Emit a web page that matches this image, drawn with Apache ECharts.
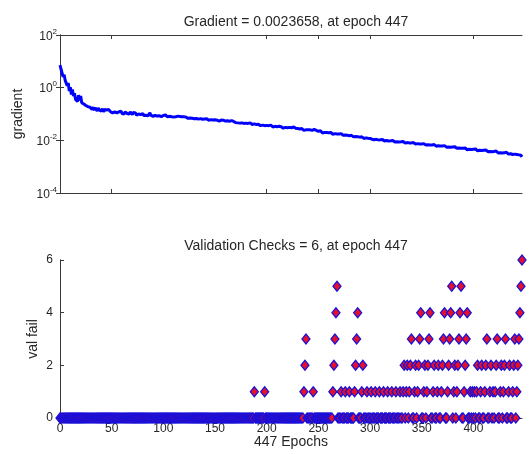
<!DOCTYPE html>
<html>
<head>
<meta charset="utf-8">
<script src="https://cdn.jsdelivr.net/npm/echarts@6/dist/echarts.min.js"></script>
<style>html,body{margin:0;padding:0;background:#fff;}#c{width:532px;height:454px;}</style>
</head>
<body>
<div id="c"></div>
<script>
// gradient value at each epoch 0..447
const gradient = [
7.2, 5.0, 4.4, 2.6, 3.1, 1.9, 2.2, 1.2, 1.5, 0.75,
1.05, 0.55, 0.85, 0.48, 0.62, 0.36, 0.42, 0.3, 0.52, 0.33,
0.48, 0.27, 0.3, 0.24, 0.27, 0.21, 0.24, 0.19, 0.22, 0.18,
0.2, 0.15, 0.18, 0.14, 0.17, 0.16, 0.13, 0.17, 0.14, 0.16,
0.13, 0.16, 0.12, 0.15, 0.13, 0.14, 0.12, 0.15, 0.13, 0.12,
0.14, 0.11, 0.13, 0.12, 0.14, 0.11, 0.13, 0.12, 0.115, 0.13,
0.105, 0.125, 0.1, 0.12, 0.14, 0.105, 0.115, 0.1, 0.12, 0.11,
0.095, 0.115, 0.1, 0.11, 0.09, 0.105, 0.1, 0.115, 0.095, 0.1,
0.105, 0.088, 0.098, 0.09, 0.1, 0.085, 0.095, 0.11, 0.088, 0.094,
0.082, 0.095, 0.088, 0.1, 0.084, 0.092, 0.086, 0.096, 0.08, 0.09,
0.088, 0.08, 0.092, 0.083, 0.078, 0.09, 0.082, 0.087, 0.079, 0.086,
0.076, 0.085, 0.078, 0.072, 0.083, 0.077, 0.081, 0.074, 0.079, 0.073,
0.078, 0.07, 0.076, 0.072, 0.068, 0.075, 0.071, 0.077, 0.069, 0.073,
0.066, 0.072, 0.068, 0.074, 0.064, 0.07, 0.067, 0.071, 0.063, 0.068,
0.065, 0.06, 0.066, 0.062, 0.058, 0.064, 0.061, 0.066, 0.059, 0.062,
0.06, 0.055, 0.058, 0.062, 0.054, 0.057, 0.059, 0.053, 0.058, 0.055,
0.054, 0.05, 0.055, 0.049, 0.053, 0.051, 0.056, 0.048, 0.052, 0.05,
0.047, 0.05, 0.046, 0.049, 0.045, 0.048, 0.046, 0.05, 0.044, 0.047,
0.045, 0.042, 0.044, 0.041, 0.046, 0.043, 0.04, 0.044, 0.042, 0.043,
0.04, 0.037, 0.041, 0.038, 0.036, 0.04, 0.038, 0.042, 0.036, 0.039,
0.037, 0.034, 0.036, 0.033, 0.038, 0.035, 0.032, 0.036, 0.034, 0.035,
0.033, 0.031, 0.034, 0.03, 0.033, 0.032, 0.029, 0.034, 0.031, 0.032,
0.03, 0.028, 0.031, 0.027, 0.03, 0.029, 0.032, 0.027, 0.029, 0.028,
0.028, 0.026, 0.027, 0.025, 0.028, 0.026, 0.024, 0.027, 0.025, 0.026,
0.025, 0.023, 0.025, 0.022, 0.024, 0.023, 0.026, 0.022, 0.024, 0.023,
0.022, 0.02, 0.023, 0.021, 0.019, 0.022, 0.02, 0.023, 0.02, 0.021,
0.0195, 0.018, 0.02, 0.0185, 0.017, 0.0195, 0.018, 0.0205, 0.0175, 0.019,
0.0175, 0.016, 0.018, 0.0165, 0.0155, 0.0175, 0.016, 0.018, 0.0155, 0.017,
0.015, 0.014, 0.0155, 0.0145, 0.0135, 0.0155, 0.014, 0.016, 0.0138, 0.0148,
0.0132, 0.0122, 0.0136, 0.0125, 0.0118, 0.0134, 0.0124, 0.0138, 0.012, 0.0128,
0.0118, 0.0135, 0.011, 0.012, 0.0106, 0.0116, 0.0109, 0.0119, 0.0104, 0.0112,
0.0105, 0.0097, 0.0108, 0.0099, 0.0094, 0.0106, 0.0098, 0.0109, 0.0095, 0.0101,
0.0096, 0.0089, 0.0098, 0.009, 0.0086, 0.0097, 0.0089, 0.0095, 0.0087, 0.0092,
0.0088, 0.0081, 0.009, 0.0083, 0.0079, 0.0087, 0.0082, 0.0089, 0.008, 0.0084,
0.008, 0.0074, 0.0082, 0.0076, 0.0072, 0.0081, 0.0075, 0.0079, 0.0073, 0.0077,
0.0073, 0.0068, 0.0075, 0.0069, 0.0066, 0.0074, 0.0068, 0.0072, 0.0067, 0.007,
0.0067, 0.0062, 0.0069, 0.0063, 0.006, 0.0068, 0.0062, 0.0066, 0.0061, 0.0064,
0.0061, 0.0057, 0.0063, 0.0058, 0.0055, 0.0062, 0.0056, 0.006, 0.0055, 0.0058,
0.0056, 0.0052, 0.0057, 0.0053, 0.005, 0.0056, 0.0051, 0.0055, 0.005, 0.0053,
0.005, 0.0046, 0.0051, 0.0047, 0.0044, 0.005, 0.0046, 0.0049, 0.0045, 0.0048,
0.0046, 0.0042, 0.0047, 0.0043, 0.004, 0.0045, 0.0042, 0.0046, 0.0041, 0.0044,
0.0042, 0.0038, 0.0043, 0.0039, 0.0037, 0.0041, 0.0038, 0.0042, 0.0037, 0.004,
0.0038, 0.0035, 0.0039, 0.0035, 0.0033, 0.0037, 0.0034, 0.0038, 0.0033, 0.0036,
0.0034, 0.0031, 0.0035, 0.0032, 0.003, 0.0034, 0.0031, 0.0033, 0.0029, 0.0032,
0.003, 0.0027, 0.0029, 0.0026, 0.0028, 0.0025, 0.0027, 0.0023658
];

// validation fail count at each epoch 0..447
const valFail = [
0,0,0,0,0,0,0,0,0,0, 0,0,0,0,0,0,0,0,0,0,
0,0,0,0,0,0,0,0,0,0, 0,0,0,0,0,0,0,0,0,0,
0,0,0,0,0,0,0,0,0,0, 0,0,0,0,0,0,0,0,0,0,
0,0,0,0,0,0,0,0,0,0, 0,0,0,0,0,0,0,0,0,0,
0,0,0,0,0,0,0,0,0,0, 0,0,0,0,0,0,0,0,0,0,
0,0,0,0,0,0,0,0,0,0, 0,0,0,0,0,0,0,0,0,0,
0,0,0,0,0,0,0,0,0,0, 0,0,0,0,0,0,0,0,0,0,
0,0,0,0,0,0,0,0,0,0, 0,0,0,0,0,0,0,0,0,0,
0,0,0,0,0,0,0,0,0,0, 0,0,0,0,0,0,0,0,0,0,
0,0,0,0,0,0,0,0,1,0, 0,0,0,0,0,0,0,0,1,0,
0,0,0,0,0,0,0,0,0,0, 0,0,0,0,0,0,0,0,0,0,
0,0,0,0,0,0,0,0,0,0, 0,0,0,0,0,0,1,2,3,0,
0,0,0,0,0,1,0,0,0,0, 0,0,0,0,0,0,0,0,0,0,
0,0,0,0,1,2,3,4,5,0, 0,0,1,0,0,0,1,0,0,0,
1,0,0,0,0,1,2,3,4,0, 0,0,1,2,0,0,0,1,0,0,
0,1,0,0,0,1,0,0,0,1, 0,0,0,1,0,0,0,1,0,0,
0,1,0,0,0,1,0,0,0,1, 0,0,1,2,0,1,2,0,1,2,
3,0,0,1,2,0,1,2,3,4, 0,0,1,2,0,1,2,3,4,0,
0,1,2,0,0,1,2,0,0,1, 2,3,4,0,0,1,2,3,4,5,
0,1,2,0,1,2,3,4,5,0, 0,1,2,3,4,0,0,1,0,1,
0,1,0,1,2,0,0,1,2,0, 0,1,2,3,0,0,1,2,0,1,
0,1,2,3,0,0,1,2,0,1, 2,3,0,0,1,2,0,0,1,2,
3,0,1,2,3,4,5,6
];

const epochTicks = [50, 200, 250, 300, 400];
const epochLabels = [0, 50, 100, 150, 200, 250, 300, 350, 400];
const gradTicks = [0.0001, 0.01, 1, 100];
const failTicks = [0, 2, 4, 6];
const maxEpoch = 447;

const FONT = '"Liberation Sans", Arial, Helvetica, sans-serif';
const AX = '#3a3a3a';
const TXT = '#262626';

const chart = echarts.init(document.getElementById('c'), null, {renderer: 'canvas'});

function xAx(grid, pos, opts) {
  return Object.assign({
    type: 'value', gridIndex: grid, position: pos, min: 0, max: maxEpoch,
    axisLine: {show: true, onZero: false, lineStyle: {color: AX, width: 1}},
    axisTick: {show: true, inside: true, length: 4, customValues: epochTicks, lineStyle: {color: AX}},
    axisLabel: {show: false},
    splitLine: {show: false}
  }, opts || {});
}

const option = {
  animation: false,
  backgroundColor: '#ffffff',
  textStyle: {fontFamily: FONT},
  title: [
    {text: 'Gradient = 0.0023658, at epoch 447', left: 291, top: 10, textAlign: 'center',
     textStyle: {fontSize: 14, fontWeight: 'normal', color: TXT, fontFamily: FONT}},
    {text: 'Validation Checks = 6, at epoch 447', left: 291, top: 234, textAlign: 'center',
     textStyle: {fontSize: 14, fontWeight: 'normal', color: TXT, fontFamily: FONT}}
  ],
  grid: [
    {left: 60, top: 35, width: 462, height: 158},
    {left: 60, top: 260, width: 462, height: 158}
  ],
  xAxis: [
    xAx(0, 'bottom'),
    xAx(0, 'top'),
    xAx(1, 'bottom', {
      axisLabel: {show: true, customValues: epochLabels, margin: 5, fontSize: 12, color: TXT, fontFamily: FONT},
      name: '447 Epochs', nameLocation: 'middle', nameGap: 17, nameMoveOverlap: false,
      nameTextStyle: {fontSize: 14, color: TXT, fontFamily: FONT}
    }),
    xAx(1, 'top', {axisLine: {show: false}})
  ],
  yAxis: [
    {
      type: 'log', logBase: 10, gridIndex: 0, position: 'left', min: 0.0001, max: 100,
      axisLine: {show: true, lineStyle: {color: AX, width: 1}},
      axisTick: {show: true, inside: true, length: 4, customValues: gradTicks, lineStyle: {color: AX}},
      axisLabel: {
        show: true, customValues: gradTicks, margin: 3, color: TXT, fontFamily: FONT,
        formatter: function (v) { return '{b|10}{e|' + Math.round(Math.log10(v)) + '}'; },
        rich: {
          b: {fontSize: 12, color: TXT, fontFamily: FONT, verticalAlign: 'bottom'},
          e: {fontSize: 8, color: TXT, fontFamily: FONT, verticalAlign: 'bottom', padding: [0, 0, 7, 0]}
        }
      },
      splitLine: {show: false},
      name: 'gradient', nameLocation: 'middle', nameGap: 35, nameMoveOverlap: false,
      nameTextStyle: {fontSize: 14, color: TXT, fontFamily: FONT}
    },
    {
      type: 'log', logBase: 10, gridIndex: 0, position: 'right', min: 0.0001, max: 100,
      axisLine: {show: true, lineStyle: {color: AX, width: 1}},
      axisTick: {show: true, inside: true, length: 4, customValues: gradTicks, lineStyle: {color: AX}},
      axisLabel: {show: false},
      splitLine: {show: false}
    },
    {
      type: 'value', gridIndex: 1, position: 'left', min: 0, max: 6, interval: 2,
      axisLine: {show: true, lineStyle: {color: AX, width: 1}},
      axisTick: {show: true, inside: true, length: 4, customValues: failTicks, lineStyle: {color: AX}},
      axisLabel: {show: true, customValues: failTicks, margin: 7, fontSize: 12, color: TXT, fontFamily: FONT},
      splitLine: {show: false},
      name: 'val fail', nameLocation: 'middle', nameGap: 20, nameMoveOverlap: false,
      nameTextStyle: {fontSize: 14, color: TXT, fontFamily: FONT}
    },
    {
      type: 'value', gridIndex: 1, position: 'right', min: 0, max: 6, interval: 2,
      axisLine: {show: true, lineStyle: {color: AX, width: 1}},
      axisTick: {show: false},
      axisLabel: {show: false},
      splitLine: {show: false}
    }
  ],
  series: [
    {
      type: 'line', xAxisIndex: 0, yAxisIndex: 0,
      data: gradient.map(function (v, i) { return [i, v]; }),
      symbol: 'none', lineStyle: {color: '#0000ff', width: 3}, z: 3
    },
    {
      type: 'scatter', xAxisIndex: 2, yAxisIndex: 2,
      data: valFail.map(function (v, i) { return [i, v]; }),
      symbol: 'diamond', symbolSize: [8, 10], clip: false,
      itemStyle: {color: '#e5102c', borderColor: '#1a10d8', borderWidth: 1.3, opacity: 1},
      z: 3
    }
  ]
};
chart.setOption(option);
</script>
</body>
</html>
